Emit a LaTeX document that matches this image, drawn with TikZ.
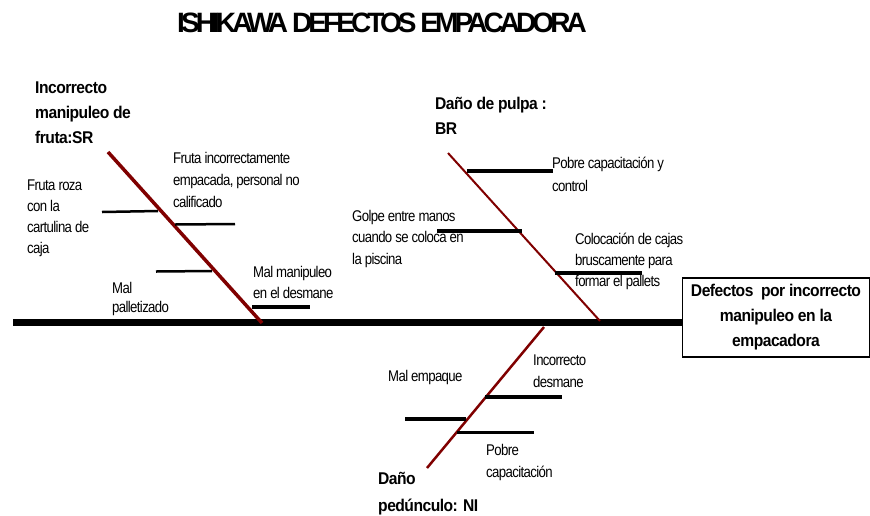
\documentclass[tikz,border=0pt]{standalone}
\usepackage{fontspec}
\setmainfont[FakeStretch=0.85,LetterSpace=-4]{Liberation Sans}
\newfontfamily\hdfont[FakeStretch=0.92,LetterSpace=-3]{Liberation Sans}
\newfontfamily\titlefont[LetterSpace=-14]{Liberation Sans}
\definecolor{bonered}{RGB}{128,0,0}
\begin{document}
\begin{tikzpicture}[x=1pt,y=-1pt,
  lbl/.style={anchor=west,inner sep=0,align=left,font=\fontsize{15.5}{21.5}\selectfont},
  hd/.style={anchor=west,inner sep=0,align=left,font=\hdfont\bfseries\fontsize{17}{25}\selectfont},
  bone/.style={draw=bonered,line width=3pt},
  subl/.style={draw=black,line width=2.5pt},
  subt/.style={draw=black,line width=4.5pt}]
\useasboundingbox (0,0) rectangle (870,515);
\fill[white] (0,0) rectangle (870,515);
% title
\node[inner sep=0,font=\titlefont\bfseries\fontsize{28}{30}\selectfont] (title) at (382,23) {ISHIKAWA DEFECTOS EMPACADORA};
% effect box and spine
\node[draw,line width=1.5pt,minimum width=187,minimum height=79,inner sep=0,align=center,
  font=\hdfont\bfseries\fontsize{17}{25}\selectfont] (effect) at (776,317.5)
  {Defectos\ \ por incorrecto\\manipuleo en la\\empacadora};
\coordinate (tail) at (13,322.5);
\draw[line width=7pt] (tail) -- (effect.west |- tail);
% branch 1
\coordinate (b1t) at (108,152);
\coordinate (b1b) at (262,323);
\draw[bone,line width=3.5pt] (b1t) -- (b1b);
\coordinate (s1a) at (102,212); \coordinate (s1b) at (158,211);
\coordinate (s2a) at (175,224.5); \coordinate (s2b) at (235,224);
\coordinate (s3a) at (156,271.5); \coordinate (s3b) at (212,271);
\coordinate (s4a) at (252,307); \coordinate (s4b) at (310,307);
\draw[subl] (s1a) -- (s1b);
\draw[subl] (s2a) -- (s2b);
\draw[subl] (s3a) -- (s3b);
\draw[draw=black,line width=4pt] (s4a) -- (s4b);
\node[hd] (h1) at (35,113) {Incorrecto\\manipuleo de\\fruta:SR};
\node[lbl,font=\fontsize{15.5}{21}\selectfont] (t1) at (27,218) {Fruta roza\\con la\\cartulina de\\caja};
\node[lbl,font=\fontsize{15.5}{22}\selectfont] (t2) at (173,180) {Fruta incorrectamente\\empacada, personal no\\calificado};
\node[lbl,font=\fontsize{15.5}{18.5}\selectfont] (t3) at (112,299) {Mal\\palletizado};
\node[lbl] (t4) at (253,282.5) {Mal manipuleo\\en el desmane};
% branch 2
\coordinate (b2t) at (448,153);
\coordinate (b2b) at (600,321);
\draw[bone,line width=2pt] (b2t) -- (b2b);
\coordinate (u1a) at (467,171); \coordinate (u1b) at (553,171);
\coordinate (u2a) at (437,231); \coordinate (u2b) at (522,231);
\coordinate (u3a) at (555,273); \coordinate (u3b) at (642,273);
\draw[subt] (u1a) -- (u1b);
\draw[subt] (u2a) -- (u2b);
\draw[subt] (u3a) -- (u3b);
\node[hd] (h2) at (435,115.5) {Daño de pulpa :\\BR};
\node[lbl,font=\fontsize{15.5}{23}\selectfont] (v1) at (552,174.5) {Pobre capacitación y\\control};
\node[lbl] (v2) at (352,238.5) {Golpe entre manos\\cuando se coloca en\\la piscina};
\node[lbl,font=\fontsize{15.5}{21}\selectfont] (v3) at (575,261) {Colocación de cajas\\bruscamente para\\formar el pallets};
% branch 3
\coordinate (b3t) at (544,327);
\coordinate (b3b) at (427,468);
\draw[bone,line width=2.5pt] (b3t) -- (b3b);
\coordinate (w1a) at (485,397); \coordinate (w1b) at (562,397);
\coordinate (w2a) at (405,419); \coordinate (w2b) at (466,419);
\coordinate (w3a) at (457,432); \coordinate (w3b) at (534,432);
\draw[draw=black,line width=4pt] (w1a) -- (w1b);
\draw[draw=black,line width=4pt] (w2a) -- (w2b);
\draw[draw=black,line width=3pt] (w3a) -- (w3b);
\node[lbl] (x1) at (388,377) {Mal empaque};
\node[lbl,font=\fontsize{15.5}{22}\selectfont] (x2) at (533,371) {Incorrecto\\desmane};
\node[lbl,font=\fontsize{15.5}{22}\selectfont] (x3) at (486,462) {Pobre\\capacitación};
\node[hd,font=\hdfont\bfseries\fontsize{17}{27}\selectfont] (h3) at (378,493.5) {Daño\\pedúnculo: NI};
\end{tikzpicture}
\end{document}
